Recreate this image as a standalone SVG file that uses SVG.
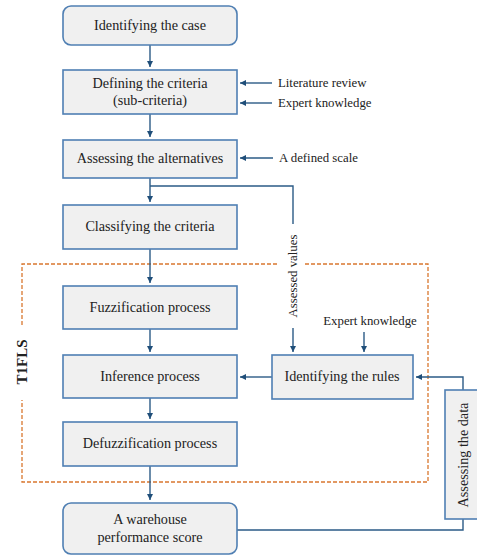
<svg xmlns="http://www.w3.org/2000/svg" width="477" height="556" viewBox="0 0 477 556">
<style>
.box{fill:#f0f0f0;stroke:#4f7fb3;stroke-width:1.6}
.t{font-family:'Liberation Serif','Times New Roman',Times,serif;font-size:14.2px;fill:#222;text-anchor:middle}
.s{font-family:'Liberation Serif','Times New Roman',Times,serif;font-size:12.8px;fill:#222}
.c{fill:none;stroke:#2b5b86;stroke-width:1.4}
.d{fill:none;stroke:#d9772f;stroke-width:1.3;stroke-dasharray:4 2}
</style>
<defs>
<marker id="a" viewBox="0 0 10 10" refX="10" refY="5" markerWidth="6" markerHeight="6" markerUnits="userSpaceOnUse" orient="auto"><path d="M0,0 L10,5 L0,10 z" fill="#1f4e79"/></marker>
</defs>
<g id="frame">
<path class="d" d="M22,325 V264 H277 M305,264 H428 V482 H22 V400"/>
<text x="0" y="0" transform="translate(27,362) rotate(-90)" font-family="'Liberation Serif','Times New Roman',serif" font-size="15" font-weight="bold" fill="#222" text-anchor="middle">T1FLS</text>
</g>
<g id="connectors">
<path class="c" d="M150,45 V67" marker-end="url(#a)"/>
<path class="c" d="M150,114 V137" marker-end="url(#a)"/>
<path class="c" d="M150,178 V202" marker-end="url(#a)"/>
<path class="c" d="M150,186 H293 V224"/>
<path class="c" d="M293,328 V352" marker-end="url(#a)"/>
<path class="c" d="M150,249 V283" marker-end="url(#a)"/>
<path class="c" d="M150,329 V352" marker-end="url(#a)"/>
<path class="c" d="M150,398 V419" marker-end="url(#a)"/>
<path class="c" d="M150,466 V500" marker-end="url(#a)"/>
<path class="c" d="M272,377 H240" marker-end="url(#a)"/>
<path class="c" d="M364,332 V352" marker-end="url(#a)"/>
<path class="c" d="M272,83 H240" marker-end="url(#a)"/>
<path class="c" d="M272,103 H240" marker-end="url(#a)"/>
<path class="c" d="M273,158 H240" marker-end="url(#a)"/>
<path class="c" d="M237,530 H463 V519"/>
<path class="c" d="M463,390 V377 H416" marker-end="url(#a)"/>
</g>
<g id="n1"><rect class="box" x="63" y="6" width="174" height="39" rx="8"/><text class="t" x="150" y="30">Identifying the case</text></g>
<g id="n2"><rect class="box" x="63" y="70" width="174" height="44"/><text class="t" x="150" y="88">Defining the criteria</text><text class="t" x="150" y="105">(sub-criteria)</text></g>
<g id="n3"><rect class="box" x="63" y="140" width="174" height="38"/><text class="t" x="150" y="163">Assessing the alternatives</text></g>
<g id="n4"><rect class="box" x="63" y="205" width="174" height="44"/><text class="t" x="150" y="231">Classifying the criteria</text></g>
<g id="n5"><rect class="box" x="63" y="286" width="174" height="43"/><text class="t" x="150" y="312">Fuzzification process</text></g>
<g id="n6"><rect class="box" x="63" y="355" width="174" height="43"/><text class="t" x="150" y="381">Inference process</text></g>
<g id="n7"><rect class="box" x="63" y="422" width="174" height="44"/><text class="t" x="150" y="448">Defuzzification process</text></g>
<g id="n8"><rect class="box" x="63" y="503" width="174" height="51" rx="8"/><text class="t" x="150" y="524">A warehouse</text><text class="t" x="150" y="542">performance score</text></g>
<g id="n9"><rect class="box" x="272" y="355" width="141" height="44"/><text class="t" x="342" y="381">Identifying the rules</text></g>
<g id="n10"><rect class="box" x="445" y="390" width="40" height="129"/><text class="t" x="0" y="0" transform="translate(468,455) rotate(-90)">Assessing the data</text></g>
<g id="labels">
<text class="s" x="278" y="87">Literature review</text>
<text class="s" x="278" y="107">Expert knowledge</text>
<text class="s" x="279" y="162">A defined scale</text>
<text class="s" x="370" y="325" text-anchor="middle">Expert knowledge</text>
<text class="s" x="0" y="0" transform="translate(297,276) rotate(-90)" text-anchor="middle">Assessed values</text>
</g>
</svg>
